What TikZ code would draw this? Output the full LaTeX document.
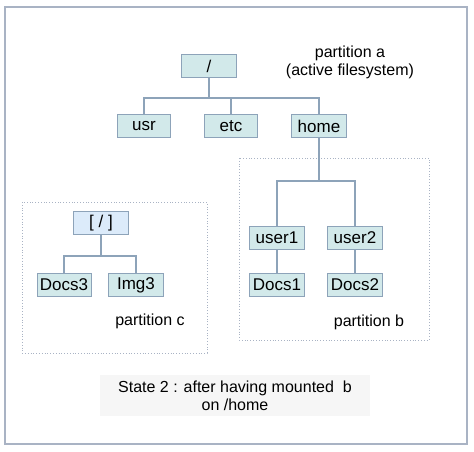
\documentclass[tikz,border=0pt]{standalone}
\usepackage{fontspec}
\setmainfont{Liberation Sans}
\definecolor{framegray}{HTML}{A9B3C4}
\definecolor{boxline}{HTML}{8DA3B9}
\definecolor{boxfill}{HTML}{D2E9EA}
\definecolor{mountfill}{HTML}{DCEBFA}
\definecolor{notefill}{HTML}{F6F6F6}
\begin{document}
\begin{tikzpicture}[
    x=1pt, y=-1pt,
    dirbox/.style={rectangle, draw=boxline, fill=boxfill, line width=0.8pt, minimum width=55pt, minimum height=23pt, inner sep=1pt, font=\fontsize{17}{19}\selectfont},
    edge/.style={draw=boxline, line width=1.3pt},
    partbox/.style={draw=framegray, dotted, line width=0.8pt},
    label/.style={font=\fontsize{16}{18}\selectfont, align=center}
]

% Obszar rysunku i ramka zewnętrzna
\useasboundingbox (0,0) rectangle (474,451);
\draw[framegray, line width=1.5pt] (5,7) rectangle (467,444);

% Ramki partycji b i c
\draw[partbox] (239,158) rectangle (429,340);
\draw[partbox] (22,202) rectangle (207,353);

% Partycja a (aktywny system plików)
\node[dirbox] (root) at (209,66) {/};
\node[dirbox, minimum width=53pt] (usr) at (144,126) {usr};
\node[dirbox, minimum width=53pt] (etc) at (231,126) {etc};
\node[dirbox] (home) at (319,126) {home};

% Partycja b, zamontowana w /home
\node[dirbox] (user1) at (277,238) {user1};
\node[dirbox] (user2) at (355,238) {user2};
\node[dirbox] (docs1) at (277,285) {Docs1};
\node[dirbox] (docs2) at (355,285) {Docs2};

% Partycja c
\node[dirbox, fill=mountfill] (croot) at (101,223) {[ / ]};
\node[dirbox, minimum width=54pt] (docs3) at (64,285) {Docs3};
\node[dirbox] (img3) at (136,285) {Img3};

% Krawędzie drzewa katalogów
\draw[edge] (root.south) -- ++(0,20) -| (usr.north);
\draw[edge] (root.south) -- ++(0,20) -| (etc.north);
\draw[edge] (root.south) -- ++(0,20) -| (home.north);
\draw[edge] (home.south) -- (319,181) -| (user1.north);
\draw[edge] (home.south) -- (319,181) -| (user2.north);
\draw[edge] (user1) -- (docs1);
\draw[edge] (user2) -- (docs2);
\draw[edge] (croot.south) -- (101,256) -| (docs3.north);
\draw[edge] (croot.south) -- (101,256) -| (img3.north);

% Opisy partycji
\node[label] (parta) at (350,62) {partition a\\(active filesystem)};
\node[label] (partb) at (369,322) {partition b};
\node[label] (partc) at (150,321) {partition c};

% Opis stanu
\node[label, fill=notefill, minimum width=270pt, minimum height=41pt, inner sep=0pt] (state) at (235,395.5)
    {State 2 : after having mounted\ \ b\\on /home};

\end{tikzpicture}
\end{document}
